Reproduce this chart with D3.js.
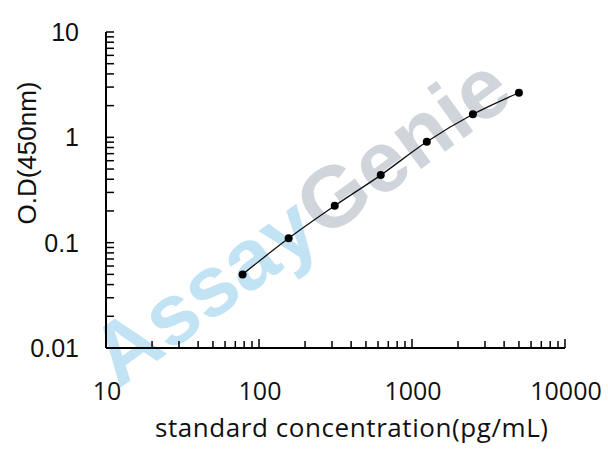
<!DOCTYPE html>
<html>
<head>
<meta charset="utf-8">
<script src="https://cdn.jsdelivr.net/npm/d3@7"></script>
<style>
  body { margin: 0; background: #fff; }
</style>
</head>
<body>
<div id="chart"></div>
<script>
// standard curve
const conc = [78.125, 156.25, 312.5, 625, 1250, 2500, 5000];
const od = [0.050, 0.110, 0.224, 0.438, 0.908, 1.655, 2.65];
const xTickLabels = [10, 100, 1000, 10000];
const yTickLabels = [0.01, 0.1, 1, 10];

const W = 608, H = 452;
const margin = { left: 106, right: 43, top: 32, bot: 104 };

const svg = d3.select('#chart').append('svg')
    .attr('width', W)
    .attr('height', H)
    .style('display', 'block');

const x = d3.scaleLog().domain([10, 10000]).range([margin.left, W - margin.right]);
const y = d3.scaleLog().domain([0.01, 10]).range([H - margin.bot, margin.top]);

// watermark
const wm = svg.append('text')
    .attr('transform', 'translate(300,220) rotate(-36)')
    .attr('text-anchor', 'middle')
    .attr('dominant-baseline', 'central')
    .style('font-family', '"Liberation Sans", Arial, sans-serif')
    .style('font-weight', 'bold')
    .style('font-size', '86px');
wm.append('tspan').attr('fill', '#c2e3f4').text('Assay');
wm.append('tspan').attr('fill', '#cfd5db').text('Genie');

/// axes
const x0 = x.range()[0], y0 = y.range()[0];

const xAxis = svg.append('g');
xAxis.append('line')
    .attr('x1', x0).attr('x2', x.range()[1])
    .attr('y1', y0).attr('y2', y0)
    .attr('stroke', '#000').attr('stroke-width', 2);
xAxis.selectAll('line.tick')
    .data(x.ticks().filter(d => d > 10))
    .enter().append('line')
    .attr('class', 'tick')
    .attr('x1', d => x(d)).attr('x2', d => x(d))
    .attr('y1', y0)
    .attr('y2', d => y0 - (xTickLabels.includes(d) ? 9 : 7))
    .attr('stroke', '#000').attr('stroke-width', 1.5);
xAxis.selectAll('text')
    .data(xTickLabels)
    .enter().append('text')
    .attr('x', d => x(d) + 1)
    .attr('y', 400)
    .attr('text-anchor', 'middle')
    .style('font-family', '"Open Sans", sans-serif')
    .style('font-size', '25px')
    .attr('fill', '#111')
    .text(d => d);

const yAxis = svg.append('g');
yAxis.append('line')
    .attr('x1', x0).attr('x2', x0)
    .attr('y1', y0).attr('y2', y.range()[1])
    .attr('stroke', '#000').attr('stroke-width', 2);
yAxis.selectAll('line.tick')
    .data(y.ticks().filter(d => d > 0.01))
    .enter().append('line')
    .attr('class', 'tick')
    .attr('x1', x0).attr('x2', x0 + 8)
    .attr('y1', d => y(d)).attr('y2', d => y(d))
    .attr('stroke', '#000').attr('stroke-width', 1.5);
yAxis.selectAll('text')
    .data(yTickLabels)
    .enter().append('text')
    .attr('x', 79)
    .attr('y', d => y(d) + 9)
    .attr('text-anchor', 'end')
    .style('font-family', '"Liberation Sans", Arial, sans-serif')
    .style('font-size', '25px')
    .attr('fill', '#111')
    .text(d => String(d));

// titles
svg.append('text')
    .attr('x', 155).attr('y', 437)
    .attr('textLength', 393)
    .attr('lengthAdjust', 'spacing')
    .style('font-family', '"Open Sans", sans-serif')
    .style('font-size', '26px')
    .attr('fill', '#111')
    .text('standard concentration(pg/mL)');

svg.append('text')
    .attr('transform', 'translate(36,153) rotate(-90)')
    .attr('text-anchor', 'middle')
    .style('font-family', '"Liberation Sans", Arial, sans-serif')
    .style('font-size', '26px')
    .attr('fill', '#111')
    .text('O.D(450nm)');

/// curve + points
const pts = conc.map((c, i) => [c, od[i]]);
svg.append('path')
    .datum(pts)
    .attr('d', d3.line().x(d => x(d[0])).y(d => y(d[1])).curve(d3.curveMonotoneX))
    .attr('fill', 'none')
    .attr('stroke', '#111')
    .attr('stroke-width', 1.3);

svg.selectAll('circle')
    .data(pts)
    .enter().append('circle')
    .attr('cx', d => x(d[0]))
    .attr('cy', d => y(d[1]))
    .attr('r', 4)
    .attr('fill', '#000');
</script>
</body>
</html>
